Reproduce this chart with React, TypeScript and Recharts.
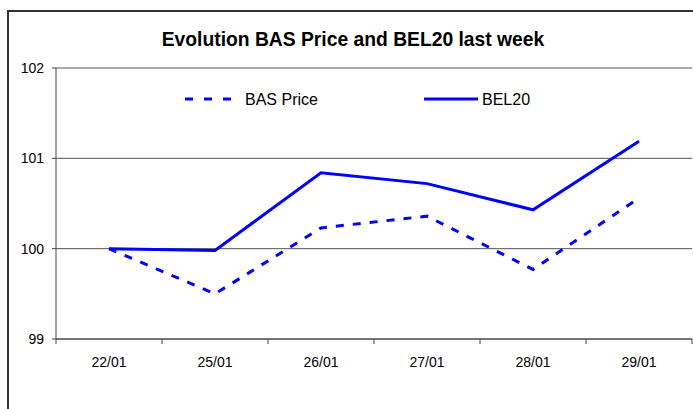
import { LineChart, Line, XAxis, YAxis, CartesianGrid } from "recharts";

const days = ["22/01", "25/01", "26/01", "27/01", "28/01", "29/01"];
const basPrice = [100.0, 99.5, 100.23, 100.36, 99.77, 100.56];
const bel20 = [100.0, 99.98, 100.84, 100.72, 100.43, 101.19];
const yTicks = [99, 100, 101, 102];

const data = days.map((d, i) => ({ pos: i + 0.5, day: d, bas: basPrice[i], bel: bel20[i] }));
const edgeTicks = days.map((_, i) => i).concat(days.length);
const centerTicks = days.map((_, i) => i + 0.5);

const font = "'Liberation Sans', Arial, sans-serif";
const blue = "#0000FF";

function LegendBox() {
  return (
    <svg width={400} height={20} style={{ position: "absolute", left: 185, top: 89, overflow: "visible" }}>
      <line x1={0} y1={10} x2={47} y2={10} stroke={blue} strokeWidth={3} strokeDasharray="8 11" />
      <text x={60} y={16} fontSize={16} fontFamily={font} fill="#000">BAS Price</text>
      <line x1={239} y1={10} x2={293} y2={10} stroke={blue} strokeWidth={3} />
      <text x={297} y={16} fontSize={16} fontFamily={font} fill="#000">BEL20</text>
    </svg>
  );
}

export default function App() {
  return (
    <div style={{ position: "absolute", left: 0, top: 0, width: 693, height: 409, overflow: "hidden", background: "#fff", fontFamily: font }}>
      <div style={{ position: "absolute", left: 7, top: 10, width: 720, height: 420, border: "2px solid #333" }} />
      <div style={{ position: "absolute", left: 0, top: 29, width: 706, textAlign: "center", fontSize: 19.3, fontWeight: "bold", color: "#000" }}>
        Evolution BAS Price and BEL20 last week
      </div>
      <LineChart width={693} height={409} data={data} margin={{ top: 68, right: 1, bottom: 35, left: 0 }} style={{ position: "absolute", left: 0, top: 0 }}>
        <CartesianGrid vertical={false} stroke="#555" strokeWidth={1} />
        <XAxis
          xAxisId={0}
          dataKey="pos"
          type="number"
          domain={[0, days.length]}
          ticks={edgeTicks}
          tickFormatter={() => ""}
          tickSize={5}
          height={5}
          stroke="#444"
          tick={{ fontSize: 1 }}
        />
        <XAxis
          xAxisId="lab"
          dataKey="pos"
          type="number"
          domain={[0, days.length]}
          ticks={centerTicks}
          tickFormatter={(v: number) => days[Math.floor(v)]}
          axisLine={false}
          tickLine={false}
          tickSize={0}
          tickMargin={13}
          height={30}
          tick={{ fontSize: 14, fill: "#000", fontFamily: font }}
          interval={0}
        />
        <YAxis
          domain={[99, 102]}
          ticks={yTicks}
          width={56}
          tickSize={4}
          tickMargin={8}
          stroke="#444"
          tick={{ fontSize: 14, fill: "#000", fontFamily: font }}
          interval={0}
        />
        <Line dataKey="bas" stroke={blue} strokeWidth={3} strokeDasharray="8 9" dot={false} isAnimationActive={false} />
        <Line dataKey="bel" stroke={blue} strokeWidth={3} dot={false} isAnimationActive={false} />
      </LineChart>
      <LegendBox />
    </div>
  );
}
